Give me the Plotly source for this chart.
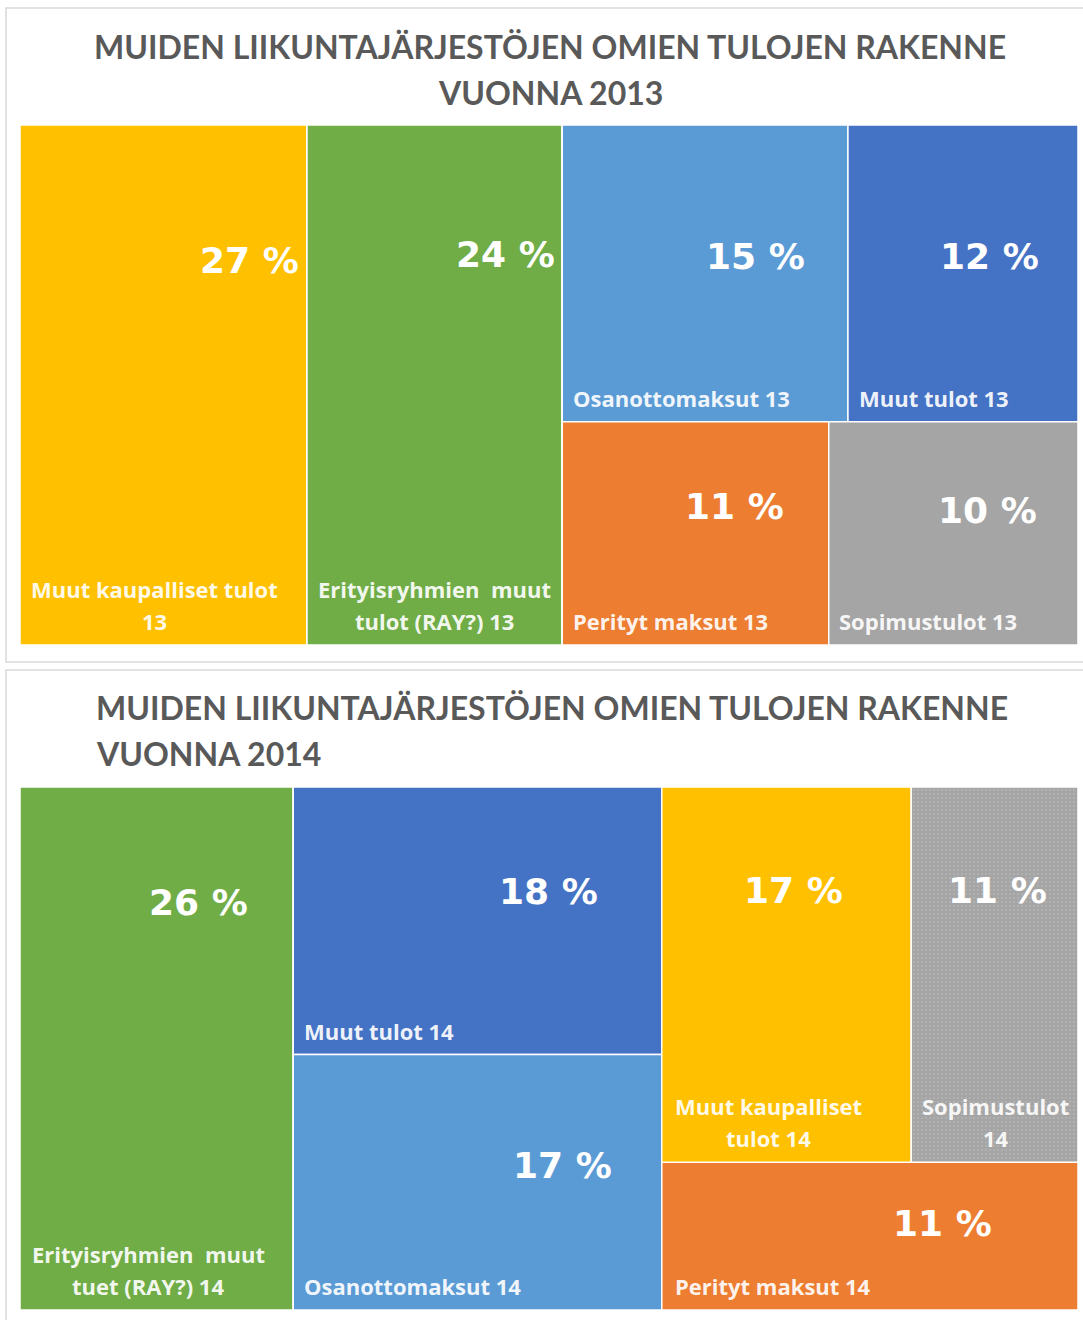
import plotly.graph_objects as go

W, H = 1083, 1320

# ---------------- data (shares in %) ----------------
title_2013 = ["MUIDEN LIIKUNTAJÄRJESTÖJEN OMIEN TULOJEN RAKENNE", "VUONNA 2013"]
labels_2013 = ["Muut kaupalliset tulot<br>13", "Erityisryhmien  muut<br>tulot (RAY?) 13",
               "Osanottomaksut 13", "Muut tulot 13", "Perityt maksut 13", "Sopimustulot 13"]
values_2013 = [27.1, 24.1, 15.4, 12.4, 10.8, 10.1]
colors_2013 = ["#FFC000", "#70AD47", "#5B9BD5", "#4472C4", "#ED7D31", "#A5A5A5"]
patterns_2013 = ["", "", "", "", "", ""]
# nesting of cells: top level side by side, next level stacked, next level side by side
groups_2013 = [0, 1, [[2, 3], [4, 5]]]

title_2014 = ["MUIDEN LIIKUNTAJÄRJESTÖJEN OMIEN TULOJEN RAKENNE", "VUONNA 2014"]
labels_2014 = ["Erityisryhmien  muut<br>tuet (RAY?) 14", "Muut tulot 14", "Osanottomaksut 14",
               "Muut kaupalliset<br>tulot 14", "Sopimustulot<br>14", "Perityt maksut 14"]
values_2014 = [25.8, 17.8, 17.0, 16.9, 11.3, 11.1]
colors_2014 = ["#70AD47", "#4472C4", "#5B9BD5", "#FFC000", "#A5A5A5", "#ED7D31"]
patterns_2014 = ["", "", "", "", ".", ""]
groups_2014 = [0, [1, 2], [[3, 4], 5]]

# ---------------- style ----------------
TITLE_COLOR = "#595959"
TITLE_FONT = "Lato"
LABEL_FONT = "Open Sans"
PCT_FONT = "DejaVu Sans"
LABEL_PITCH = 32

panel_2013 = dict(box=(6, 8, 1095, 662), tm=(20, 125, 1078, 645), title_y=(46, 92), title_align="center")
panel_2014 = dict(box=(6, 670, 1095, 1335), tm=(20, 787, 1078, 1310), title_y=(707, 753), title_align="left")

# percent label anchor (fraction of cell width / height)
pct_pos_2013 = [(0.798, 0.26), (0.776, 0.25), (0.677, 0.444), (0.616, 0.444), (0.645, 0.378), (0.635, 0.396)]
pct_pos_2014 = [(0.652, 0.22), (0.693, 0.39), (0.731, 0.435), (0.528, 0.277), (0.518, 0.277), (0.675, 0.415)]
# category label: ("center", fx) or ("left", px offset)
lab_pos_2013 = [("center", 0.47), ("center", 0.50), ("left", 9), ("left", 9), ("left", 9), ("left", 8)]
lab_pos_2014 = [("center", 0.47), ("left", 9), ("left", 9), ("center", 0.427), ("center", 0.506), ("left", 11)]


def px(x):
    return x / W


def py(y):
    return 1 - y / H


def build_tree(groups, values, labels, colors, patterns, prefix):
    ids, names, parents, vals, cols, pats = [], [], [], [], [], []
    counter = [0]

    def rec(node, parent):
        if isinstance(node, int):
            ids.append(f"{prefix}c{node}")
            names.append(labels[node].replace("<br>", " "))
            parents.append(parent)
            vals.append(values[node])
            cols.append(colors[node])
            pats.append(patterns[node])
        else:
            gid = f"{prefix}g{counter[0]}"
            counter[0] += 1
            ids.append(gid)
            names.append(gid)
            parents.append(parent)
            vals.append(0)
            cols.append("white")
            pats.append("")
            for ch in node:
                rec(ch, gid)

    for n in groups:
        rec(n, "")
    return ids, names, parents, vals, cols, pats


def node_total(node, values):
    if isinstance(node, int):
        return values[node]
    return sum(node_total(c, values) for c in node)


def compute_rects(groups, values, x0, y0, x1, y1):
    rects = {}

    def rec(nodes, x0, y0, x1, y1, depth):
        tot = sum(node_total(n, values) for n in nodes)
        pos = x0 if depth % 2 == 0 else y0
        for n in nodes:
            t = node_total(n, values)
            if depth % 2 == 0:
                w = (x1 - x0) * t / tot
                r = (pos, y0, pos + w, y1)
                pos += w
            else:
                h = (y1 - y0) * t / tot
                r = (x0, pos, x1, pos + h)
                pos += h
            if isinstance(n, int):
                rects[n] = r
            else:
                rec(n, *r, depth + 1)

    rec(groups, x0, y0, x1, y1, 0)
    return rects


fig = go.Figure()
annotations = []
shapes = []

panels = [
    (panel_2013, title_2013, labels_2013, values_2013, colors_2013, patterns_2013, groups_2013,
     pct_pos_2013, lab_pos_2013, "a"),
    (panel_2014, title_2014, labels_2014, values_2014, colors_2014, patterns_2014, groups_2014,
     pct_pos_2014, lab_pos_2014, "b"),
]

for panel, title, labels, values, colors, patterns, groups, pct_pos, lab_pos, prefix in panels:
    bx0, by0, bx1, by1 = panel["box"]
    shapes.append(dict(type="rect", xref="paper", yref="paper",
                       x0=px(bx0), x1=px(bx1), y0=py(by1), y1=py(by0),
                       line=dict(color="#D9D9D9", width=1.5), fillcolor="rgba(0,0,0,0)"))
    tx0, ty0, tx1, ty1 = panel["tm"]
    ids, names, parents, vals, mcolors, pats = build_tree(groups, values, labels, colors, patterns, prefix)
    fig.add_trace(go.Treemap(
        ids=ids, labels=names, parents=parents, values=vals, branchvalues="remainder",
        sort=False, textinfo="none", hoverinfo="skip",
        marker=dict(colors=mcolors, line=dict(color="white", width=1.5),
                    pad=dict(t=0, l=0, r=0, b=0), depthfade=False,
                    pattern=dict(shape=pats, fillmode="overlay", fgcolor="#C6C6C6",
                                 size=4, solidity=0.2)),
        tiling=dict(packing="slice-dice", pad=0),
        pathbar=dict(visible=False),
        domain=dict(x=[px(tx0), px(tx1)], y=[py(ty1), py(ty0)]),
    ))

    # titles
    for line, yc in zip(title, panel["title_y"]):
        if panel["title_align"] == "center":
            annotations.append(dict(x=px((tx0 + tx1) / 2 + 1), y=py(yc), xref="paper", yref="paper",
                                    text=f"<b>{line}</b>", showarrow=False, xanchor="center", yanchor="middle",
                                    font=dict(family=TITLE_FONT, size=32, color=TITLE_COLOR)))
        else:
            annotations.append(dict(x=px(94), y=py(yc), xref="paper", yref="paper",
                                    text=f"<b>{line}</b>", showarrow=False, xanchor="left", yanchor="middle",
                                    font=dict(family=TITLE_FONT, size=32, color=TITLE_COLOR)))

    rects = compute_rects(groups, values, tx0, ty0, tx1, ty1)
    for i, v in enumerate(values):
        x0, y0, x1, y1 = rects[i]
        fx, fy = pct_pos[i]
        annotations.append(dict(x=px(x0 + fx * (x1 - x0)), y=py(y0 + fy * (y1 - y0)),
                                xref="paper", yref="paper", text=f"<b>{round(v)} %</b>", showarrow=False,
                                xanchor="center", yanchor="middle",
                                font=dict(family=PCT_FONT, size=36, color="white")))
        mode, off = lab_pos[i]
        if mode == "center":
            lx, xa = x0 + off * (x1 - x0), "center"
        else:
            lx, xa = x0 + off, "left"
        lines = labels[i].split("<br>")
        n = len(lines)
        for k, ln in enumerate(lines):
            yc = y1 - 24 - (n - 1 - k) * LABEL_PITCH
            annotations.append(dict(x=px(lx), y=py(yc), xref="paper", yref="paper",
                                    text=f"<b>{ln}</b>", showarrow=False,
                                    xanchor=xa, yanchor="middle",
                                    font=dict(family=LABEL_FONT, size=22, color="rgba(255,255,255,0.93)")))

fig.update_layout(width=W, height=H, margin=dict(l=0, r=0, t=0, b=0),
                  paper_bgcolor="white", plot_bgcolor="white",
                  annotations=annotations, shapes=shapes, showlegend=False)

fig.write_html("out.html", config={"displayModeBar": False},
               post_script="document.body.style.margin='0';")
